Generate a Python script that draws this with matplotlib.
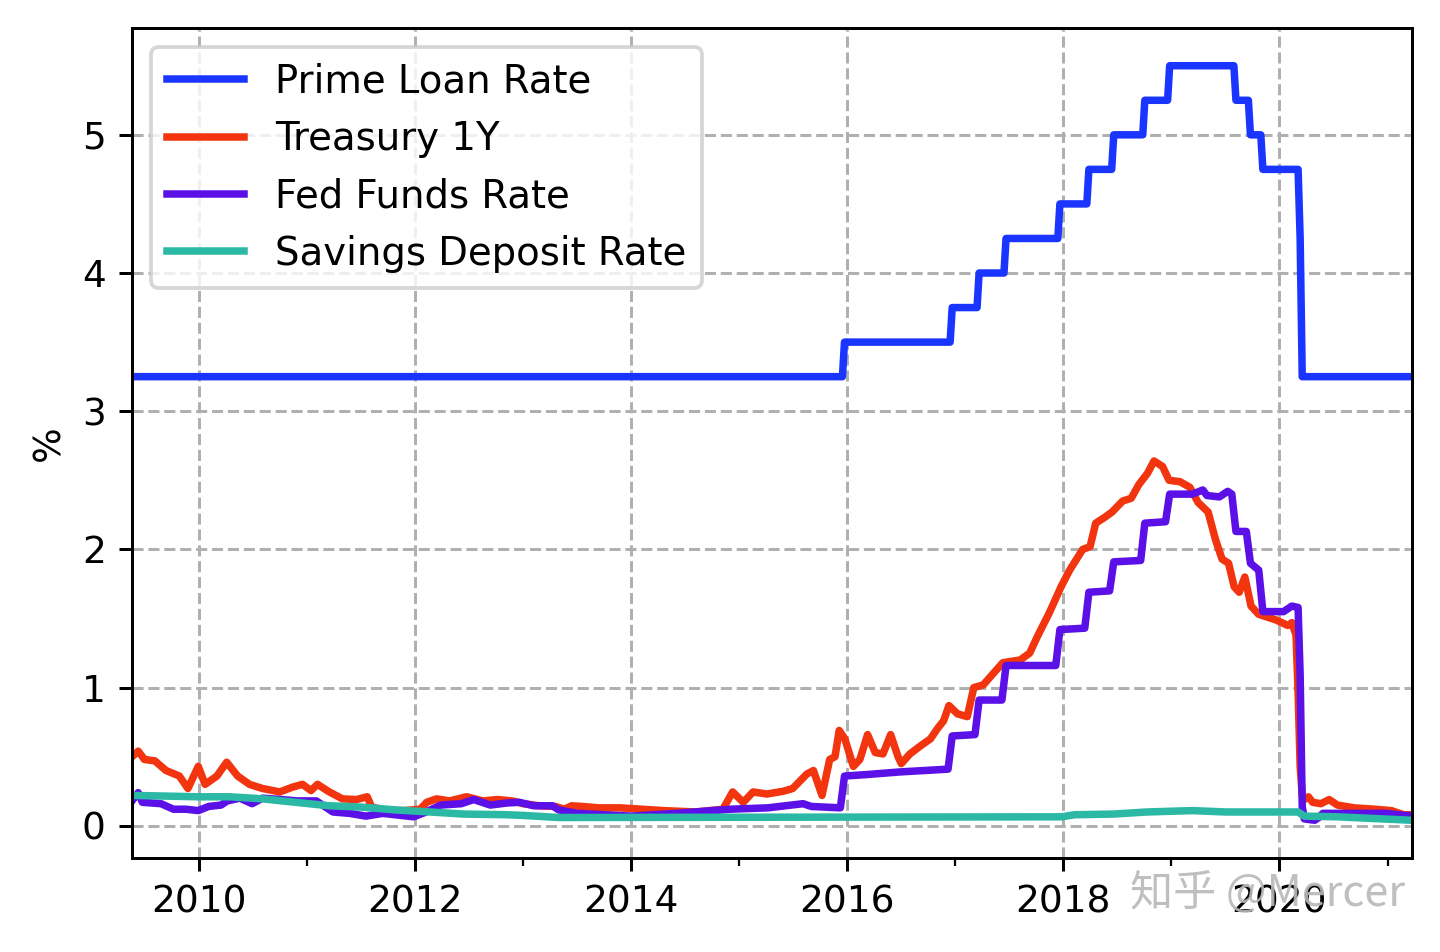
import pandas as pd
import matplotlib.pyplot as plt
import matplotlib.dates as mdates

# -------------------------------------------------
# Data (weekly-ish)
# -------------------------------------------------
prime_dates = [
    "2009-05-20", "2015-12-16", "2015-12-23", "2016-12-14", "2016-12-21",
    "2017-03-15", "2017-03-22", "2017-06-14", "2017-06-21", "2017-12-13",
    "2017-12-20", "2018-03-21", "2018-03-28", "2018-06-13", "2018-06-20",
    "2018-09-26", "2018-10-03", "2018-12-19", "2018-12-26", "2019-07-31",
    "2019-08-07", "2019-09-18", "2019-09-25", "2019-10-30", "2019-11-06",
    "2020-03-04", "2020-03-11", "2020-03-18", "2021-03-24",
]
prime_vals = [
    3.25, 3.25, 3.50, 3.50, 3.75,
    3.75, 4.00, 4.00, 4.25, 4.25,
    4.50, 4.50, 4.75, 4.75, 5.00,
    5.00, 5.25, 5.25, 5.50, 5.50,
    5.25, 5.25, 5.00, 5.00, 4.75,
    4.75, 4.25, 3.25, 3.25,
]

treasury_dates = [
    "2009-05-20", "2009-06-10", "2009-07-01", "2009-08-05", "2009-09-12",
    "2009-10-27", "2009-11-25", "2009-12-30", "2010-01-22", "2010-03-03",
    "2010-04-05", "2010-05-12", "2010-06-21", "2010-08-04", "2010-10-01",
    "2010-11-14", "2010-12-17", "2011-01-15", "2011-02-06", "2011-03-18",
    "2011-05-01", "2011-06-18", "2011-07-24", "2011-08-08", "2011-10-01",
    "2011-11-24", "2012-01-19", "2012-02-10", "2012-03-14", "2012-04-27",
    "2012-06-24", "2012-08-18", "2012-10-05", "2012-11-25", "2013-01-01",
    "2013-02-24", "2013-04-20", "2013-05-20", "2013-06-14", "2013-07-20",
    "2013-09-13", "2013-11-24", "2014-02-06", "2014-04-20", "2014-08-08",
    "2014-11-07", "2014-12-10", "2015-01-15", "2015-02-17", "2015-04-05",
    "2015-05-30", "2015-07-01", "2015-08-18", "2015-09-09", "2015-10-08",
    "2015-11-03", "2015-11-21", "2015-12-05", "2015-12-24", "2016-01-22",
    "2016-02-13", "2016-03-10", "2016-04-05", "2016-05-01", "2016-05-27",
    "2016-06-21", "2016-07-02", "2016-07-31", "2016-09-06", "2016-10-09",
    "2016-10-31", "2016-11-22", "2016-12-10", "2017-01-08", "2017-02-10",
    "2017-03-04", "2017-04-05", "2017-05-08", "2017-06-10", "2017-08-08",
    "2017-09-09", "2017-10-05", "2017-11-14", "2017-12-24", "2018-01-22",
    "2018-03-07", "2018-04-01", "2018-04-20", "2018-05-19", "2018-06-14",
    "2018-07-20", "2018-08-18", "2018-09-13", "2018-10-12", "2018-11-03",
    "2018-12-02", "2018-12-24", "2019-01-30", "2019-03-04", "2019-04-01",
    "2019-05-05", "2019-05-30", "2019-06-21", "2019-07-13", "2019-08-01",
    "2019-08-18", "2019-09-06", "2019-09-27", "2019-10-23", "2019-12-20",
    "2020-01-29", "2020-02-12", "2020-02-26", "2020-03-04", "2020-03-11",
    "2020-03-18", "2020-03-25", "2020-04-08", "2020-04-22", "2020-05-20",
    "2020-06-17", "2020-07-15", "2020-09-09", "2020-11-18", "2021-01-13",
    "2021-02-24", "2021-03-24",
]
treasury_vals = [
    0.50, 0.54, 0.48, 0.47, 0.40,
    0.36, 0.27, 0.43, 0.30, 0.36,
    0.46, 0.36, 0.30, 0.27, 0.245,
    0.28, 0.30, 0.255, 0.30, 0.245,
    0.195, 0.19, 0.21, 0.135, 0.11,
    0.11, 0.12, 0.17, 0.195, 0.18,
    0.21, 0.18, 0.19, 0.18, 0.16,
    0.145, 0.14, 0.12, 0.145, 0.14,
    0.13, 0.13, 0.12, 0.11, 0.10,
    0.12, 0.245, 0.17, 0.245, 0.23,
    0.25, 0.27, 0.375, 0.40, 0.22,
    0.48, 0.50, 0.69, 0.63, 0.43,
    0.48, 0.66, 0.53, 0.52, 0.66,
    0.50, 0.45, 0.52, 0.58, 0.63,
    0.70, 0.76, 0.87, 0.81, 0.79,
    1.00, 1.02, 1.10, 1.18, 1.20,
    1.25, 1.37, 1.54, 1.73, 1.85,
    2.00, 2.02, 2.19, 2.23, 2.27,
    2.35, 2.37, 2.47, 2.55, 2.64,
    2.60, 2.50, 2.49, 2.45, 2.34,
    2.27, 2.07, 1.93, 1.90, 1.73,
    1.69, 1.80, 1.59, 1.53, 1.49,
    1.45, 1.47, 1.38, 0.97, 0.43,
    0.22, 0.19, 0.21, 0.17, 0.16,
    0.19, 0.15, 0.13, 0.12, 0.11,
    0.08, 0.08,
]

fed_dates = [
    "2009-05-20", "2009-06-10", "2009-06-24", "2009-08-26", "2009-10-07",
    "2009-11-18", "2009-12-30", "2010-02-03", "2010-03-17", "2010-04-07",
    "2010-05-19", "2010-06-30", "2010-08-04", "2010-10-06", "2010-12-01",
    "2011-02-02", "2011-03-30", "2011-05-25", "2011-07-20", "2011-09-14",
    "2011-10-26", "2011-12-28", "2012-02-08", "2012-03-28", "2012-06-06",
    "2012-07-18", "2012-09-12", "2012-11-07", "2012-12-19", "2013-02-06",
    "2013-04-10", "2013-05-01", "2013-07-03", "2014-01-01", "2014-06-04",
    "2014-12-03", "2015-04-08", "2015-08-05", "2015-09-02", "2015-12-09",
    "2015-12-23", "2016-03-02", "2016-06-29", "2016-12-07", "2016-12-21",
    "2017-03-08", "2017-03-22", "2017-06-07", "2017-06-21", "2017-12-06",
    "2017-12-20", "2018-03-14", "2018-03-28", "2018-06-06", "2018-06-20",
    "2018-09-19", "2018-10-03", "2018-12-12", "2018-12-26", "2019-03-13",
    "2019-04-17", "2019-05-01", "2019-06-12", "2019-07-10", "2019-07-24",
    "2019-08-07", "2019-09-11", "2019-09-25", "2019-10-23", "2019-11-06",
    "2020-01-15", "2020-02-12", "2020-03-04", "2020-03-11", "2020-03-18",
    "2020-03-25", "2020-04-29", "2020-05-13", "2020-05-27", "2020-09-02",
    "2020-12-30", "2021-02-03", "2021-03-24",
]
fed_vals = [
    0.18, 0.24, 0.17, 0.16, 0.12,
    0.12, 0.11, 0.14, 0.15, 0.18,
    0.20, 0.16, 0.20, 0.19, 0.18,
    0.18, 0.10, 0.09, 0.07, 0.09,
    0.08, 0.065, 0.10, 0.15, 0.16,
    0.19, 0.15, 0.165, 0.17, 0.145,
    0.145, 0.115, 0.09, 0.07, 0.09,
    0.12, 0.13, 0.16, 0.14, 0.13,
    0.36, 0.37, 0.39, 0.41, 0.65,
    0.66, 0.91, 0.91, 1.16, 1.16,
    1.42, 1.43, 1.69, 1.70, 1.91,
    1.92, 2.19, 2.20, 2.40, 2.40,
    2.43, 2.39, 2.38, 2.42, 2.40,
    2.13, 2.13, 1.90, 1.85, 1.55,
    1.55, 1.59, 1.58, 1.09, 0.14,
    0.05, 0.04, 0.06, 0.09, 0.09,
    0.09, 0.08, 0.07,
]

savings_dates = [
    "2009-05-20", "2009-12-30", "2010-04-15", "2010-08-04", "2010-11-24",
    "2011-03-16", "2011-07-06", "2011-10-27", "2012-02-22", "2012-06-13",
    "2012-11-07", "2013-01-02", "2013-05-01", "2017-12-27", "2018-02-07",
    "2018-06-20", "2018-10-10", "2019-03-13", "2019-07-03", "2020-03-04",
    "2020-03-25", "2020-07-15", "2021-03-24",
]
savings_vals = [
    0.22, 0.21, 0.21, 0.195, 0.17,
    0.145, 0.135, 0.115, 0.10, 0.085,
    0.08, 0.075, 0.06, 0.065, 0.08,
    0.085, 0.10, 0.11, 0.10, 0.10,
    0.07, 0.065, 0.04,
]

series = [
    ("Prime Loan Rate", prime_dates, prime_vals, "#1a35ff"),
    ("Treasury 1Y", treasury_dates, treasury_vals, "#f2340f"),
    ("Fed Funds Rate", fed_dates, fed_vals, "#5a10e6"),
    ("Savings Deposit Rate", savings_dates, savings_vals, "#2bb9a6"),
]

# -------------------------------------------------
# Plot
# -------------------------------------------------
DPI = 270
fig = plt.figure(figsize=(1440 / DPI, 952 / DPI), dpi=DPI)
ax = fig.add_axes([132 / 1440, 94 / 952, 1280 / 1440, 830 / 952])

for label, dates, vals, color in series:
    ax.plot(pd.to_datetime(dates), vals, color=color, lw=2, label=label)

ax.set_xlim(pd.Timestamp("2009-05-20"), pd.Timestamp("2021-03-24"))
ax.xaxis.set_major_locator(mdates.YearLocator(2))
ax.xaxis.set_minor_locator(mdates.YearLocator(1))
ax.xaxis.set_major_formatter(mdates.DateFormatter("%Y"))
ax.set_ylabel("%")
ax.grid(True, linestyle="--")
ax.legend(loc="upper left", fontsize=10.3)

# watermark
fig.text(0.976, 0.062, "知乎 @Mercer", ha="right", va="center", fontsize=11.5,
         color="#b8b8b8", alpha=0.9, zorder=10,
         family=["Noto Sans CJK SC", "DejaVu Sans"])

fig.savefig("out.png", dpi=DPI)
plt.close(fig)
